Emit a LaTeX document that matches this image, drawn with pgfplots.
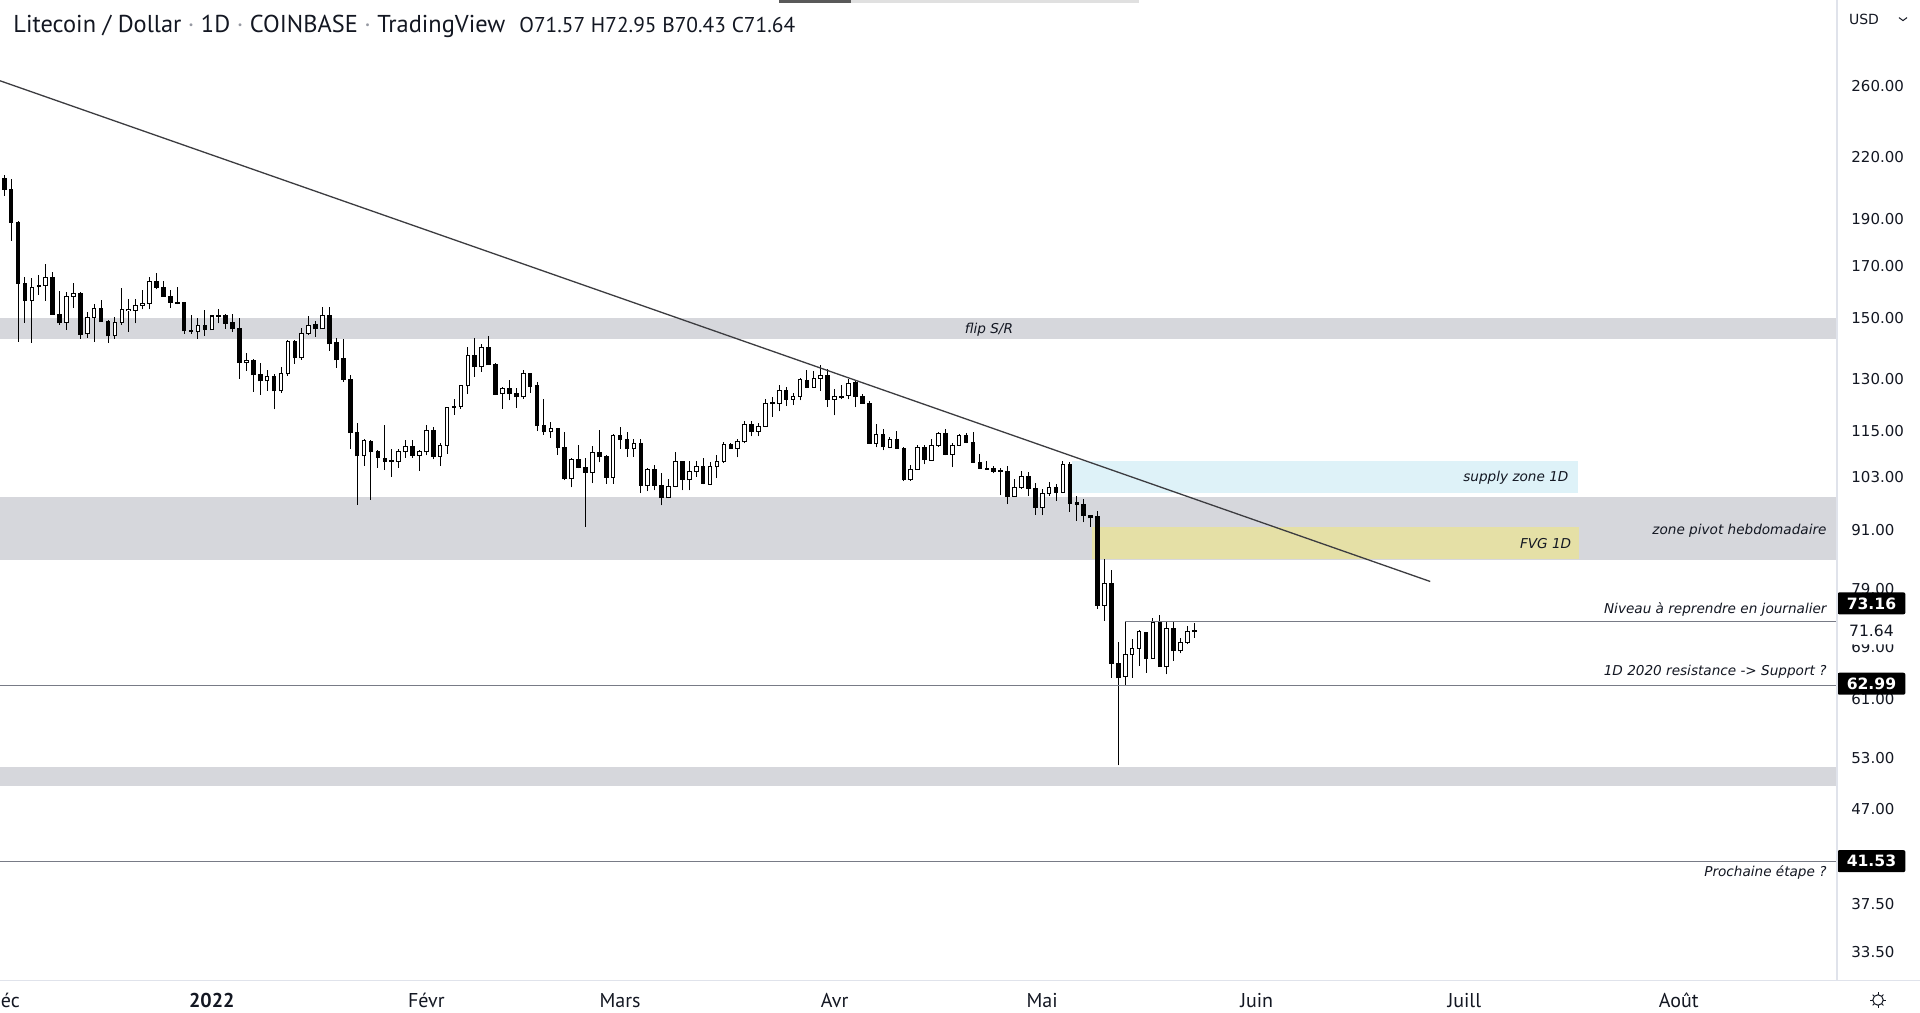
\documentclass[border=0pt]{standalone}
\usepackage{pgfplots}
\pgfplotsset{compat=1.18}
\usepackage{pgfplotstable}
\usepackage{fontspec}
\setmainfont{PT Sans}
\newfontfamily\dejavu{DejaVu Sans}
\definecolor{tvtext}{RGB}{19,23,34}
\definecolor{bandgray}{RGB}{214,215,220}
\definecolor{supply}{RGB}{222,242,248}
\definecolor{fvg}{RGB}{229,224,166}
\definecolor{sepgray}{RGB}{224,227,235}
\definecolor{lvl}{RGB}{120,123,134}
\definecolor{trend}{RGB}{60,60,64}
\definecolor{dotgray}{RGB}{150,153,162}

\pgfplotstableread{
d o h l c
-30 209.0 210.7 200.6 203.7
-29 203.7 208.7 180.4 188.3
-28 188.3 189.1 142.0 163.0
-27 163.0 165.4 148.5 156.5
-26 156.5 165.0 141.6 161.5
-25 162.3 166.1 158.7 161.7
-24 162.3 170.7 156.5 165.4
-23 165.4 167.5 151.4 151.5
-22 151.5 160.1 147.8 148.5
-21 148.7 159.6 146.1 158.1
-20 158.1 163.3 153.7 159.2
-19 159.2 159.6 143.0 144.4
-18 144.7 152.2 143.3 150.4
-17 150.4 155.1 142.0 153.7
-16 153.7 156.7 148.9 148.9
-15 149.0 149.5 141.6 144.0
-14 144.0 150.4 143.0 148.7
-13 148.7 161.2 147.8 153.3
-12 152.9 157.0 145.4 153.3
-11 152.9 157.0 148.3 154.8
-10 154.8 160.5 153.3 155.5
-9 155.5 165.5 153.3 163.8
-8 163.8 166.9 160.7 161.5
-7 161.5 163.8 158.1 158.1
-6 158.1 160.3 153.7 155.9
-5 155.9 161.5 155.1 155.5
-4 155.9 156.0 144.7 145.7
-3 145.7 151.1 144.7 145.4
-2 145.4 150.1 143.0 147.6
-1 147.6 152.9 144.0 146.1
0 146.1 151.1 146.1 150.9
1 150.8 153.3 148.3 151.1
2 151.1 151.5 146.4 148.3
3 148.7 151.5 145.4 146.4
4 146.4 150.1 130.0 135.1
5 135.1 138.3 132.5 135.9
6 135.9 136.3 126.1 131.3
7 131.3 135.1 125.2 129.4
8 129.4 132.8 126.4 130.7
9 130.7 131.6 121.0 126.4
10 126.4 133.8 125.8 131.6
11 131.6 142.5 131.0 142.0
12 142.0 142.5 134.8 136.7
13 136.7 146.5 136.0 144.8
14 144.8 150.8 144.4 147.6
15 147.9 149.0 143.7 146.4
16 146.4 154.3 146.4 151.1
17 151.1 154.3 139.0 141.3
18 141.6 143.3 133.5 136.0
19 136.3 142.8 129.2 129.9
20 129.9 131.3 110.1 114.5
21 114.5 117.0 96.5 108.4
22 108.4 112.7 105.9 112.4
23 112.2 112.6 97.7 109.4
24 109.5 110.0 105.4 107.9
25 107.6 116.7 104.9 106.9
26 107.0 110.1 103.1 107.1
27 107.0 110.1 105.4 109.4
28 109.4 112.4 107.9 110.8
29 110.8 112.4 107.9 108.5
30 108.5 110.0 104.6 109.4
31 109.4 116.7 108.5 115.1
32 115.1 115.9 107.5 108.3
33 108.3 111.6 105.8 111.1
34 111.1 121.7 108.9 121.6
35 121.8 124.0 119.4 121.6
36 121.8 128.1 121.1 127.9
37 127.9 140.1 125.4 137.5
38 137.5 143.1 130.7 133.8
39 133.8 141.1 132.3 140.1
40 140.1 143.9 134.4 134.4
41 134.6 134.9 125.1 125.4
42 125.6 127.6 121.2 127.0
43 127.0 129.7 123.6 125.6
44 125.7 127.3 121.4 124.6
45 124.6 132.8 124.0 131.8
46 131.8 131.8 125.9 127.7
47 127.9 129.0 114.9 116.4
48 116.5 124.1 113.9 114.7
49 114.7 117.3 113.1 115.6
50 115.6 115.6 108.7 110.5
51 110.6 114.6 102.3 102.6
52 102.8 107.9 100.6 107.4
53 107.4 111.3 105.2 105.4
54 105.4 107.9 91.6 104.2
55 104.2 111.0 101.6 109.3
56 109.3 115.1 106.7 108.1
57 108.2 108.7 101.5 103.0
58 103.0 114.0 101.5 113.7
59 113.7 115.9 110.2 112.6
60 112.6 114.8 108.1 110.2
61 110.2 112.8 108.1 111.5
62 111.5 112.7 99.2 101.1
63 101.1 105.4 99.7 105.0
64 105.0 106.0 99.9 101.1
65 101.1 104.0 96.4 98.2
66 98.2 102.5 98.0 100.8
67 100.8 109.3 100.6 107.0
68 107.0 107.0 99.9 102.5
69 102.4 107.0 99.9 104.4
70 104.4 107.0 103.2 105.6
71 105.6 107.7 101.3 101.6
72 101.3 106.8 101.1 105.6
73 105.6 108.5 102.8 107.0
74 107.0 112.0 106.5 111.4
75 111.4 111.6 110.2 110.2
76 110.3 112.7 108.0 112.0
77 112.0 117.6 111.6 116.8
78 116.8 117.6 113.5 114.9
79 114.9 117.1 113.5 116.2
80 116.2 123.9 116.0 122.8
81 122.9 124.5 118.9 122.6
82 122.8 128.1 120.4 126.6
83 126.6 127.5 121.9 123.9
84 123.9 125.9 122.2 124.7
85 124.7 130.2 123.6 129.7
86 129.6 132.7 127.2 127.5
87 127.5 132.4 127.5 130.2
88 130.2 134.4 126.3 131.2
89 131.2 133.0 121.6 123.9
90 123.9 126.9 119.3 124.8
91 124.8 128.1 123.9 124.5
92 125.1 129.9 123.9 128.7
93 128.8 129.3 121.6 124.8
94 124.8 125.4 122.8 122.8
95 122.8 123.3 111.6 111.6
96 111.6 116.8 110.6 114.1
97 114.1 115.6 109.8 110.8
98 110.6 113.2 110.3 112.7
99 112.7 114.9 110.3 110.3
100 110.3 110.6 102.1 102.5
101 102.5 106.0 102.2 104.9
102 104.9 111.1 104.9 110.6
103 110.6 111.1 106.2 107.4
104 107.3 112.7 107.2 111.1
105 111.1 114.8 110.8 114.3
106 114.3 115.4 108.5 108.8
107 108.8 111.6 105.5 111.1
108 111.1 114.1 111.1 113.8
109 113.8 114.3 111.6 111.9
110 111.9 114.6 106.5 106.7
111 106.7 108.8 105.0 105.3
112 105.3 107.0 105.0 105.0
113 105.3 105.7 104.0 104.5
114 104.7 105.2 98.7 104.5
115 104.5 105.7 96.7 98.5
116 98.5 102.6 98.5 100.6
117 100.6 104.5 100.2 103.3
118 103.3 104.4 98.5 100.4
119 100.4 101.6 94.3 96.0
120 96.0 100.3 94.2 99.2
121 99.2 101.8 98.5 100.5
122 100.5 101.3 97.5 99.4
123 99.4 107.0 99.2 106.2
124 106.2 106.8 95.0 96.8
125 97.0 98.5 93.0 96.7
126 96.6 97.8 92.6 94.1
127 94.1 94.2 91.6 93.6
128 93.9 95.1 75.4 76.1
129 76.1 85.0 73.4 80.1
130 80.1 82.7 64.1 66.3
131 66.3 69.8 52.1 64.1
132 64.3 73.16 63.0 67.7
133 67.7 70.2 64.1 68.7
134 68.7 71.8 65.9 71.5
135 71.4 71.5 64.9 67.1
136 67.1 73.8 67.1 73.1
137 73.1 74.4 65.8 65.8
138 65.8 73.2 64.6 72.0
139 72.0 73.2 66.7 68.3
140 68.3 70.5 67.9 69.7
141 69.7 72.4 69.4 71.5
142 71.57 72.95 70.43 71.64
}\candles

\begin{document}
\begin{tikzpicture}[x=1pt,y=1pt]
\useasboundingbox (0,0) rectangle (960,506);
\fill[white] (0,0) rectangle (960,506);
\begin{axis}[
  at={(0pt,16pt)}, anchor=south west,
  width=918.5pt, height=490pt, scale only axis,
  xmin=-30.61, xmax=234.86,
  ymode=log, ymin=31.35, ymax=318.8,
  clip mode=individual,
  axis line style={draw=none},
  major tick length=0pt,
  tick style={draw=none},
  xtick={0,31,59,90,120,151,181,212},
  xticklabels={\textbf{2022},Févr,Mars,Avr,Mai,Juin,Juill,Août},
  xticklabel style={font=\fontsize{10}{12}\selectfont, text=tvtext, anchor=center, yshift=-10.25pt},
  ytick={33.5,37.5,47,53,61,69,79,91,103,115,130,150,170,190,220,260},
  yticklabels={33.50,37.50,47.00,53.00,61.00,69.00,79.00,91.00,103.00,115.00,130.00,150.00,170.00,190.00,220.00,260.00},
  yticklabel pos=right,
  yticklabel style={font=\dejavu\fontsize{7.5}{9}\selectfont, text=tvtext, anchor=west, inner sep=0pt, xshift=7pt},
]
% zones
\addplot[draw=none, fill=bandgray] coordinates {(-40,142.9) (240,142.9) (240,150.2) (-40,150.2)} -- cycle;
\addplot[draw=none, fill=bandgray] coordinates {(-40,84.8) (240,84.8) (240,98.4) (-40,98.4)} -- cycle;
\addplot[draw=none, fill=bandgray] coordinates {(-40,49.6) (240,49.6) (240,51.9) (-40,51.9)} -- cycle;
\addplot[draw=none, fill=supply] coordinates {(124.3,99.2) (197.4,99.2) (197.4,107.0) (124.3,107.0)} -- cycle;
\addplot[draw=none, fill=fvg] coordinates {(127.2,85.0) (197.6,85.0) (197.6,91.5) (127.2,91.5)} -- cycle;
% candles: wicks
\addplot[draw=none, mark=none, error bars/.cd, y dir=plus, y explicit, error mark=none,
  error bar style={draw=black, solid, line width=0.5pt}]
  table[x=d, y=l, y error expr={\thisrow{h}-\thisrow{l}}] {\candles};
% candles: bodies
\addplot[draw=none, mark=none, error bars/.cd, y dir=plus, y explicit, error mark=none,
  error bar style={draw=black, solid, line width=2.3pt, line cap=butt}]
  table[x=d, y expr={min(\thisrow{o},\thisrow{c})/1.0012},
        y error expr={max(\thisrow{o},\thisrow{c})*1.0012-min(\thisrow{o},\thisrow{c})/1.0012}] {\candles};
% hollow interiors
\addplot[draw=none, mark=none, error bars/.cd, y dir=plus, y explicit, error mark=none,
  error bar style={draw=white, solid, line width=1.3pt, line cap=butt}]
  table[x=d, y expr={\thisrow{o}*1.0012},
        y error expr={max(\thisrow{c}/1.0012-\thisrow{o}*1.0012,0)*(\thisrow{c}>\thisrow{o})}] {\candles};
% levels
\addplot[lvl, line width=0.5pt] coordinates {(-40,62.99) (240,62.99)};
\addplot[lvl, line width=0.5pt] coordinates {(-40,41.53) (240,41.53)};
\addplot[lvl, line width=0.5pt] coordinates {(132,73.16) (240,73.16)};
% trend line
\addplot[trend, line width=0.65pt] coordinates {(-30.61,263.3) (176.07,80.5)};
% annotations
\begin{scope}[every node/.style={font=\dejavu\itshape\fontsize{6.8}{8}\selectfont, text=tvtext, inner sep=0pt}]
\node[anchor=mid] at (axis cs:112.3,146.5) {flip S/R};
\node[anchor=mid east] at (axis cs:196.1,103.3) {supply zone 1D};
\node[anchor=mid east] at (axis cs:233.4,91.1) {zone pivot hebdomadaire};
\node[anchor=mid east] at (axis cs:196.5,88.1) {FVG 1D};
\node[anchor=mid east] at (axis cs:233.4,75.5) {Niveau à reprendre en journalier};
\node[anchor=mid east] at (axis cs:233.4,65.2) {1D 2020 resistance -> Support ?};
\node[anchor=mid east] at (axis cs:233.4,40.5) {Prochaine étape ?};
\end{scope}
% price tags
\begin{scope}[every node/.style={font=\dejavu\fontsize{7.8}{9}\selectfont, minimum width=34pt, minimum height=11pt, inner sep=0pt, anchor=west, rounded corners=1pt}]
\node[fill=white, text=tvtext, minimum height=13.5pt] at (axis cs:234.86,71.64) {71.64};
\node[fill=black, text=white, font=\dejavu\bfseries\fontsize{7.8}{9}\selectfont] at (axis cs:234.86,76.45) {73.16};
\node[fill=black, text=white, font=\dejavu\bfseries\fontsize{7.8}{9}\selectfont] at (axis cs:234.86,63.2) {62.99};
\node[fill=black, text=white, font=\dejavu\bfseries\fontsize{7.8}{9}\selectfont] at (axis cs:234.86,41.53) {41.53};
\end{scope}
\end{axis}
% separators
\draw[sepgray, line width=0.6pt] (0,15.7) -- (960,15.7);
\draw[sepgray, line width=0.6pt] (918.5,15.7) -- (918.5,506);
% cut-off December label (only its end is visible in the reference)
\node[font=\fontsize{10}{12}\selectfont, text=tvtext, anchor=west, inner sep=0pt] at (0.2,5.75) {éc};
% header
\node[anchor=base west, inner sep=0pt, font=\fontsize{12.2}{14}\selectfont, text=tvtext] at (6.5,489.5)
  {Litecoin / Dollar \textcolor{dotgray}{·} 1D \textcolor{dotgray}{·} COINBASE \textcolor{dotgray}{·} TradingView};
\node[anchor=base west, inner sep=0pt, font=\fontsize{10.7}{13}\selectfont, text=tvtext] at (259.5,489.5)
  {O71.57 H72.95 B70.43 C71.64};
% top scroller
\fill[black!65] (389.5,504.6) rectangle (425.5,506);
\fill[black!12] (425.5,504.6) rectangle (569.5,506);
% USD
\node[font=\dejavu\fontsize{7}{8}\selectfont, text=tvtext, anchor=center, inner sep=0pt] at (932,496.2) {USD};
\draw[tvtext, line width=0.5pt] (949.5,497.2) -- (951.5,495.7) -- (953.5,497.2);
% gear icon
\begin{scope}[shift={(939,6)}]
\draw[tvtext, line width=0.5pt] (0,0) circle (2.6);
\foreach \a in {0,45,...,315} \draw[tvtext, line width=0.5pt] (\a:2.6) -- (\a:3.8);
\end{scope}
\end{tikzpicture}
\end{document}
